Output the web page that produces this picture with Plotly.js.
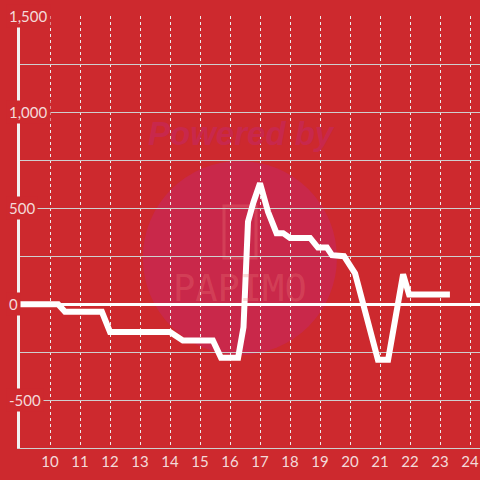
<!DOCTYPE html>
<html>
<head>
<meta charset="utf-8">
<script src="https://cdn.plot.ly/plotly-3.0.1.min.js"></script>
<style>html,body{margin:0;padding:0;background:#cd292e;}#chart{width:480px;height:480px;}</style>
</head>
<body>
<div id="chart"></div>
<script>
// Data
const hours = [9.0, 10.27, 10.5, 11.73, 12.0, 14.0, 14.43, 15.43, 15.7, 16.27, 16.45, 16.6, 16.78, 17.0, 17.27, 17.55, 17.77, 18.0, 18.67, 18.93, 19.23, 19.4, 19.8, 20.17, 20.93, 21.27, 21.77, 21.97, 23.33];
const values = [0, 0, -40, -40, -145, -145, -190, -190, -280, -280, -120, 430, 530, 630, 480, 370, 370, 345, 345, 295, 295, 255, 250, 160, -290, -290, 155, 50, 50];
const xTicks = [10, 11, 12, 13, 14, 15, 16, 17, 18, 19, 20, 21, 22, 23, 24];
const yTicks = [-500, 0, 500, 1000, 1500];
const yTickText = ['-500', '0', '500', '1,000', '1,500'];

const bg = '#cd292e';
const labelColor = '#f4dada';

const trace = {
  x: hours, y: values, type: 'scatter', mode: 'lines',
  line: {color: '#ffffff', width: 6, shape: 'linear'},
  hoverinfo: 'none'
};

const annotations = yTicks.map((v, i) => ({
  xref: 'paper', yref: 'y', x: 0, y: v, xshift: -14, xanchor: 'left', yanchor: 'middle',
  text: yTickText[i], showarrow: false, bgcolor: bg, borderpad: 2,
  font: {family: 'Lato', size: 15, color: labelColor}
}));

// watermark
annotations.push({
  xref: 'paper', yref: 'paper', x: 0.482, y: 0.727, xanchor: 'center', yanchor: 'middle',
  text: '<b><i>Powered by</i></b>', showarrow: false,
  font: {family: 'Liberation Sans', size: 33, color: '#c8284c'}
});
annotations.push({
  xref: 'paper', yref: 'paper', x: 0.478, y: 0.37, xanchor: 'center', yanchor: 'middle',
  text: 'PAPIMO', showarrow: false,
  font: {family: 'DejaVu Sans Mono', size: 37, color: 'rgba(235,120,120,0.30)'}
});

const layout = {
  width: 480, height: 480,
  margin: {l: 20, r: 0, t: 16, b: 32},
  paper_bgcolor: bg, plot_bgcolor: bg,
  showlegend: false,
  xaxis: {
    range: [9, 24.333], tickmode: 'array', tickvals: xTicks, ticktext: xTicks.map(String),
    showgrid: true, gridcolor: '#ececec', gridwidth: 1, griddash: 'dot',
    showline: true, linecolor: '#cfcfcf', linewidth: 1, zeroline: false,
    ticks: '', tickfont: {family: 'Lato', size: 15, color: labelColor}
  },
  yaxis: {
    range: [-750, 1502], dtick: 250, tick0: 0, showticklabels: false,
    showgrid: true, gridcolor: '#cfcfcf', gridwidth: 1,
    showline: true, linecolor: '#f2f2f2', linewidth: 3,
    zeroline: true, zerolinecolor: '#ffffff', zerolinewidth: 3, ticks: ''
  },
  shapes: [
    {type: 'circle', xref: 'paper', yref: 'paper', layer: 'below',
     x0: 0.478 - 0.211, x1: 0.478 + 0.211, y0: 0.44 - 0.2245, y1: 0.44 + 0.2245,
     fillcolor: '#c9284a', line: {width: 0}},
    {type: 'rect', xref: 'paper', yref: 'paper', layer: 'below',
     x0: (224 - 20) / 460, x1: (256 - 20) / 460, y0: (448 - 258) / 432, y1: (448 - 206) / 432,
     fillcolor: 'rgba(0,0,0,0)', line: {color: 'rgba(235,120,120,0.30)', width: 3}}
  ],
  annotations: annotations
};

Plotly.newPlot('chart', [trace], layout, {staticPlot: true, displayModeBar: false});
</script>
</body>
</html>
